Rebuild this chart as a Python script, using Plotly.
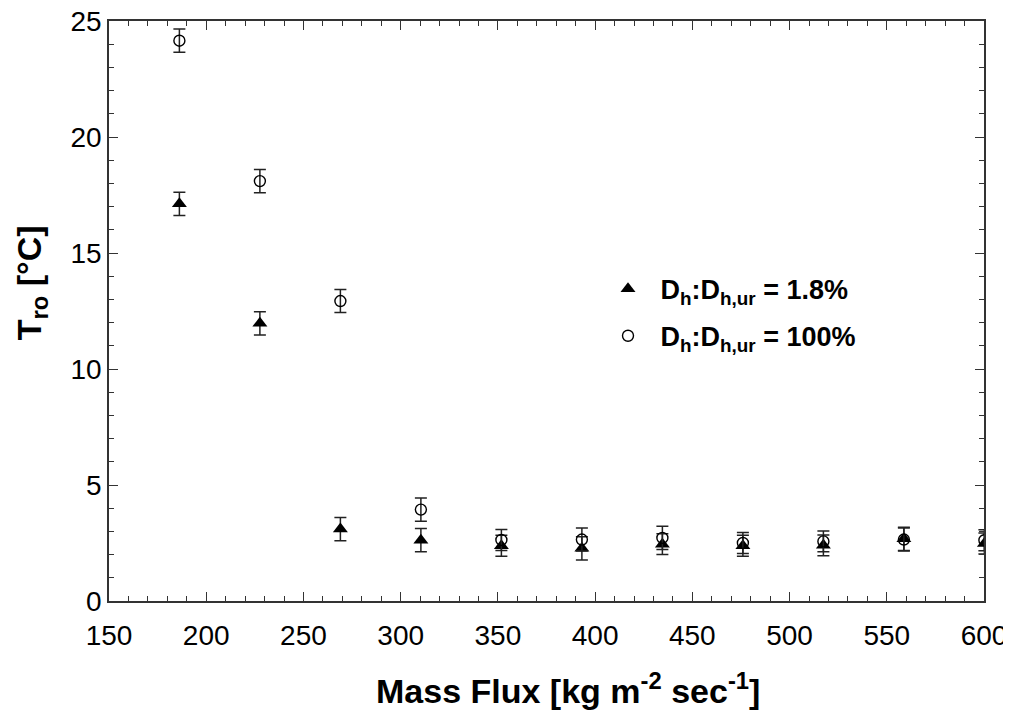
import plotly.graph_objects as go

mass_flux = [186.2, 227.6, 269.0, 310.4, 351.8, 393.2, 434.6, 476.0, 517.4, 558.8, 600.2]
tro_18 = [17.12, 11.97, 3.10, 2.62, 2.38, 2.27, 2.45, 2.38, 2.40, 2.68, 2.48]
err_18 = [0.5, 0.5, 0.5, 0.5, 0.45, 0.5, 0.45, 0.45, 0.45, 0.5, 0.45]
tro_100 = [24.15, 18.10, 12.93, 3.94, 2.63, 2.65, 2.72, 2.50, 2.57, 2.65, 2.62]
err_100 = [0.5, 0.5, 0.5, 0.5, 0.45, 0.5, 0.5, 0.45, 0.45, 0.5, 0.45]

name_18 = "D<sub>h</sub>:D<sub>h,ur</sub> = 1.8%"
name_100 = "D<sub>h</sub>:D<sub>h,ur</sub> = 100%"

FONT = "Liberation Sans, Arial, sans-serif"

fig = go.Figure()
fig.add_trace(go.Scatter(
    x=mass_flux, y=tro_18, mode="markers", name=name_18, legendgroup="a",
    marker=dict(symbol="triangle-up", size=13, color="black", line=dict(width=0)),
    error_y=dict(type="data", array=err_18, visible=True, color="#222", thickness=1.5, width=6),
))
fig.add_trace(go.Scatter(
    x=mass_flux, y=tro_100, mode="markers", name=name_100, legendgroup="b",
    marker=dict(symbol="circle-open", size=11, color="black", line=dict(width=1.4, color="#222")),
    error_y=dict(type="data", array=err_100, visible=True, color="#222", thickness=1.5, width=6),
))

axis_common = dict(
    showline=True, linecolor="#333", linewidth=1.5, mirror="allticks",
    ticks="inside", ticklen=9, tickwidth=1.3, tickcolor="#333",
    showgrid=False, zeroline=False, automargin=False, ticklabeloverflow="allow",
    tickfont=dict(family=FONT, size=28, color="black"),
)

fig.update_xaxes(
    range=[150, 600], dtick=50, tick0=150, ticklabelstandoff=9,
    minor=dict(dtick=10, ticks="inside", ticklen=5, tickwidth=1.2, tickcolor="#333", showgrid=False),
    **axis_common,
)
fig.update_yaxes(
    range=[0, 25], dtick=5, tick0=0,
    minor=dict(dtick=1, ticks="inside", ticklen=5, tickwidth=1.2, tickcolor="#333", showgrid=False),
    **axis_common,
)

fig.add_annotation(
    text="Mass Flux [kg m<sup>-2</sup> sec<sup>-1</sup>]",
    xref="paper", yref="paper", x=0.525, y=-0.151, xanchor="center", yanchor="middle", showarrow=False,
    font=dict(family=FONT, size=34, color="black", weight="bold"),
)
fig.add_annotation(
    text="T<sub>ro</sub> [°C]",
    xref="paper", yref="paper", x=-0.089, y=0.548, xanchor="center", yanchor="middle",
    textangle=-90, showarrow=False,
    font=dict(family=FONT, size=34, color="black", weight="bold"),
)

fig.update_layout(
    width=1003, height=703,
    margin=dict(l=101, r=27, t=13, b=110, autoexpand=False),
    plot_bgcolor="white", paper_bgcolor="white",
    showlegend=True,
    legend=dict(
        x=0.556, y=0.58, xanchor="left", yanchor="top",
        bgcolor="rgba(0,0,0,0)", borderwidth=0, traceorder="grouped",
        font=dict(family=FONT, size=27, color="black", weight="bold"),
        itemsizing="trace", tracegroupgap=9, itemwidth=55,
    ),
)

fig.write_html("out.html")
